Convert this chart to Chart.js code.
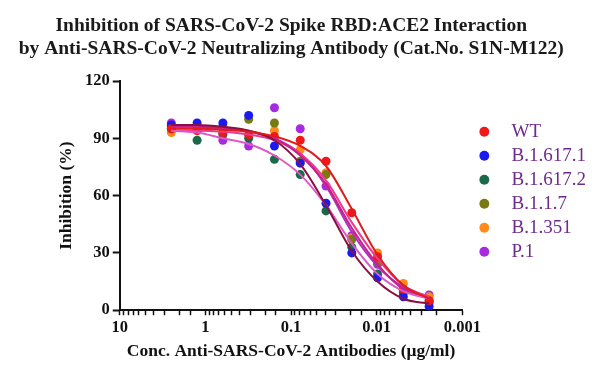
<!DOCTYPE html>
<html>
<head>
<meta charset="utf-8">
<script src="https://cdn.jsdelivr.net/npm/chart.js@4.4.1/dist/chart.umd.min.js"></script>
<style>
  body { margin: 0; background: #fff; }
  canvas { display: block; }
</style>
</head>
<body>
<canvas id="inhibChart" width="599" height="372"></canvas>
<script>
// concentraciones (ug/ml), dilucion 1:2 desde 2.5
const concs = [2.5, 1.25, 0.625, 0.3125, 0.15625, 0.078125, 0.0390625, 0.01953125, 0.009765625, 0.0048828125, 0.00244140625];
const variants = ['WT', 'B.1.617.1', 'B.1.617.2', 'B.1.1.7', 'B.1.351', 'P.1'];

// puntos medidos (% inhibicion)
const wtPts      = [95, 94, 93, 92, 91, 89, 78, 51, 28, 11, 5];
const b16171Pts  = [97, 98, 98, 102, 86, 77, 56, 30, 17, 7, 2];
const b16172Pts  = [95, 89, 92, 90, 79, 71, 52, 33, 19, 9, 4];
const b117Pts    = [96, 95, 96, 100, 98, 78, 71, 37, 25, 10, 5];
const b1351Pts   = [93, 94, 93, 92, 94, 84, 72, 38, 30, 14, 7];
const p1Pts      = [98, 96, 89, 86, 106, 95, 65, 39, 24, 11, 8];

// valores de la curva ajustada
const wtFit      = [95, 95, 94.5, 93.5, 91, 86, 75.5, 53, 29, 13, 6];
const b16171Fit  = [97, 97, 96, 94, 89, 76.5, 55, 31, 15, 6, 3.5];
const b16172Fit  = [94, 93, 90, 87, 81, 71, 55, 35, 19, 10, 6];
const b117Fit    = [96, 96, 95.5, 94, 90, 81, 66, 43, 24, 11, 6];
const b1351Fit   = [94, 94, 93.5, 92, 89, 82, 68, 46, 27, 13, 7];
const p1Fit      = [96, 96, 95, 93.5, 90, 82, 65, 41, 23, 12, 7];

const yTicks = [0, 30, 60, 90, 120];
const xTickLabels = ['10', '1', '0.1', '0.01', '0.001'];

const allPts = [wtPts, b16171Pts, b16172Pts, b117Pts, b1351Pts, p1Pts];
const allFits = [wtFit, b16171Fit, b16172Fit, b117Fit, b1351Fit, p1Fit];
const pointColors = ['#f01818', '#1a1aee', '#1a6a4a', '#7a7a12', '#ff8a1a', '#a82ae0'];
const lineColors = ['#e01c1c', '#8a1040', '#e058c8', '#c8208a', '#ee3a8c', '#b030c0'];

const serif = "'Liberation Serif', 'Times New Roman', serif";

function toXY(vals) {
    return vals.map((v, i) => ({ x: concs[i], y: v }));
}

const datasets = [];
variants.forEach((name, i) => {
    datasets.push({
        type: 'scatter',
        label: name,
        data: toXY(allPts[i]),
        backgroundColor: pointColors[i],
        borderWidth: 0,
        pointRadius: 4.5,
        pointStyle: 'circle',
        order: 2
    });
});
variants.forEach((name, i) => {
    datasets.push({
        type: 'line',
        label: name + ' fit',
        data: toXY(allFits[i]),
        borderColor: lineColors[i],
        borderWidth: 2,
        pointRadius: 0,
        cubicInterpolationMode: 'monotone',
        fill: false,
        order: 1
    });
});

// separa un poco la leyenda del area del grafico
const legendShift = {
    id: 'legendShift',
    afterLayout(chart) {
        chart.legend.left += 13.5;
        chart.legend.right += 13.5;
    }
};

const ctx = document.getElementById('inhibChart').getContext('2d');
new Chart(ctx, {
    data: { datasets: datasets },
    plugins: [legendShift],
    options: {
        responsive: false,
        animation: false,
        devicePixelRatio: 1,
        layout: { padding: { left: 0, right: 16.5, bottom: 10 } },
        plugins: {
            tooltip: { enabled: false },
            title: {
                display: true,
                text: ['Inhibition of SARS-CoV-2 Spike RBD:ACE2 Interaction',
                       'by Anti-SARS-CoV-2 Neutralizing Antibody (Cat.No. S1N-M122)'],
                color: '#1a1a1a',
                font: { family: serif, size: 19.5, weight: 'bold', lineHeight: 1.18 },
                padding: { top: 14.5, bottom: 20.5 }
            },
            legend: {
                position: 'right',
                title: { display: true, text: ' ', padding: 0, font: { size: 18 } },
                labels: {
                    filter: (item) => !item.text.endsWith(' fit'),
                    generateLabels: (chart) => {
                        const items = Chart.defaults.plugins.legend.labels.generateLabels(chart);
                        items.forEach(it => {
                            if (!it.text.endsWith(' fit')) it.text = '\u2002\u2005' + it.text;
                        });
                        return items;
                    },
                    usePointStyle: true,
                    boxWidth: 7,
                    boxHeight: 7,
                    padding: 5,
                    color: '#6e2a8c',
                    font: { family: serif, size: 19 }
                }
            }
        },
        scales: {
            x: {
                type: 'logarithmic',
                reverse: true,
                min: 0.001,
                max: 10,
                border: { color: '#111', width: 2 },
                grid: {
                    drawOnChartArea: false,
                    tickLength: 5,
                    tickColor: '#111',
                    tickWidth: 1.5
                },
                ticks: {
                    autoSkip: false,
                    maxRotation: 0,
                    color: '#111',
                    padding: 3,
                    font: { family: serif, size: 16.5, weight: 'bold' },
                    callback: function (value) {
                        const s = String(Number(value.toPrecision(3)));
                        return xTickLabels.includes(s) ? s : '';
                    }
                },
                title: {
                    display: true,
                    text: 'Conc. Anti-SARS-CoV-2 Antibodies (μg/ml)',
                    color: '#111',
                    font: { family: serif, size: 17.5, weight: 'bold' },
                    padding: { top: 0, bottom: 0 }
                }
            },
            y: {
                min: 0,
                max: 120,
                border: { color: '#111', width: 2 },
                grid: {
                    drawOnChartArea: false,
                    tickLength: 7,
                    tickColor: '#111',
                    tickWidth: 2
                },
                afterBuildTicks: (scale) => {
                    scale.ticks = yTicks.map(v => ({ value: v }));
                },
                ticks: {
                    color: '#111',
                    padding: 3,
                    font: { family: serif, size: 16.5, weight: 'bold' }
                },
                title: {
                    display: true,
                    text: 'Inhibition (%)',
                    color: '#111',
                    font: { family: serif, size: 17.5, weight: 'bold' },
                    padding: { top: 56, bottom: 5 }
                }
            }
        }
    }
});
</script>
</body>
</html>
